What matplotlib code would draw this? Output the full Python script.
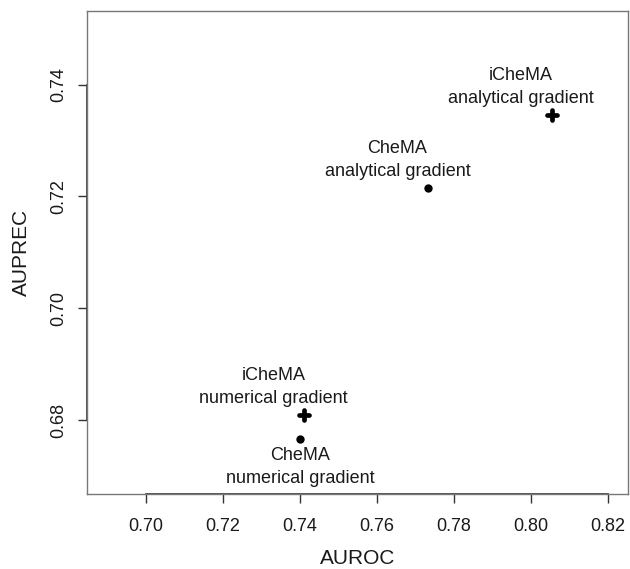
import matplotlib
matplotlib.use('Agg')
import matplotlib.pyplot as plt
from matplotlib.markers import MarkerStyle

plt.rcParams['font.family'] = ['Liberation Sans', 'DejaVu Sans']

# values
methods = ['iCheMA\nanalytical gradient', 'CheMA\nanalytical gradient',
           'iCheMA\nnumerical gradient', 'CheMA\nnumerical gradient']
auroc = [0.8055, 0.7734, 0.7412, 0.7401]
auprec = [0.7346, 0.7215, 0.6809, 0.6766]
is_icHema = [True, False, True, False]
# label shift relative to point (data units), like text(x-0.008, y+0.005)
label_dx = [-0.008, -0.008, -0.008, 0.0]
label_dy = [0.005, 0.005, 0.005, -0.005]

xticks = [0.70, 0.72, 0.74, 0.76, 0.78, 0.80, 0.82]
yticks = [0.68, 0.70, 0.72, 0.74]
xlim = (0.69, 0.82)
ylim = (0.67, 0.75)

fig = plt.figure(figsize=(6.3, 5.69), dpi=100)
ax = fig.add_axes([0.1386, 0.1318, 0.8577, 0.8494])

plus = MarkerStyle('+', capstyle='round')
for x, y, ich in zip(auroc, auprec, is_icHema):
    if ich:
        ax.plot(x, y, linestyle='none', marker=plus, ms=7.5, mew=3.4, color='black')
    else:
        ax.plot(x, y, linestyle='none', marker='o', ms=6, color='black', mew=0)

for x, y, lab, dx, dy in zip(auroc, auprec, methods, label_dx, label_dy):
    ax.text(x + dx, y + dy, lab, ha='center', va='center', fontsize=13,
            color='#1a1a1a', linespacing=1.45)

# R style 4% padding
xr = xlim[1] - xlim[0]
yr = ylim[1] - ylim[0]

ax.set_xticks(xticks)
ax.set_xticklabels(['%.2f' % v for v in xticks])
ax.set_yticks(yticks)
ax.set_yticklabels(['%.2f' % v for v in yticks], rotation=90, va='center')
ax.tick_params(axis='x', direction='out', length=6.5, width=1, color='#333333',
               pad=11, labelsize=13, labelcolor='#1a1a1a')
ax.tick_params(axis='y', direction='out', length=6.5, width=1, color='#333333',
               pad=8, labelsize=13, labelcolor='#1a1a1a')

for s in ax.spines.values():
    s.set_color('#777777')
    s.set_linewidth(1)

# darker axis line between first and last tick
y0 = ylim[0] - 0.04 * yr
x0 = xlim[0] - 0.04 * xr
ax.plot([xticks[0], xticks[-1]], [y0, y0], color='#333333', lw=1.2, clip_on=False)
ax.plot([x0, x0], [yticks[0], yticks[-1]], color='#333333', lw=1.2, clip_on=False)
ax.set_xlim(xlim[0] - 0.04 * xr, xlim[1] + 0.04 * xr)
ax.set_ylim(ylim[0] - 0.04 * yr, ylim[1] + 0.04 * yr)

ax.set_xlabel('AUROC', fontsize=15, color='#1a1a1a', va='center')
ax.set_ylabel('AUPREC', fontsize=15, color='#1a1a1a', va='center')
ax.xaxis.set_label_coords(0.5, -0.133)
ax.yaxis.set_label_coords(-0.1214, 0.5)

fig.savefig('out.png', dpi=100)
